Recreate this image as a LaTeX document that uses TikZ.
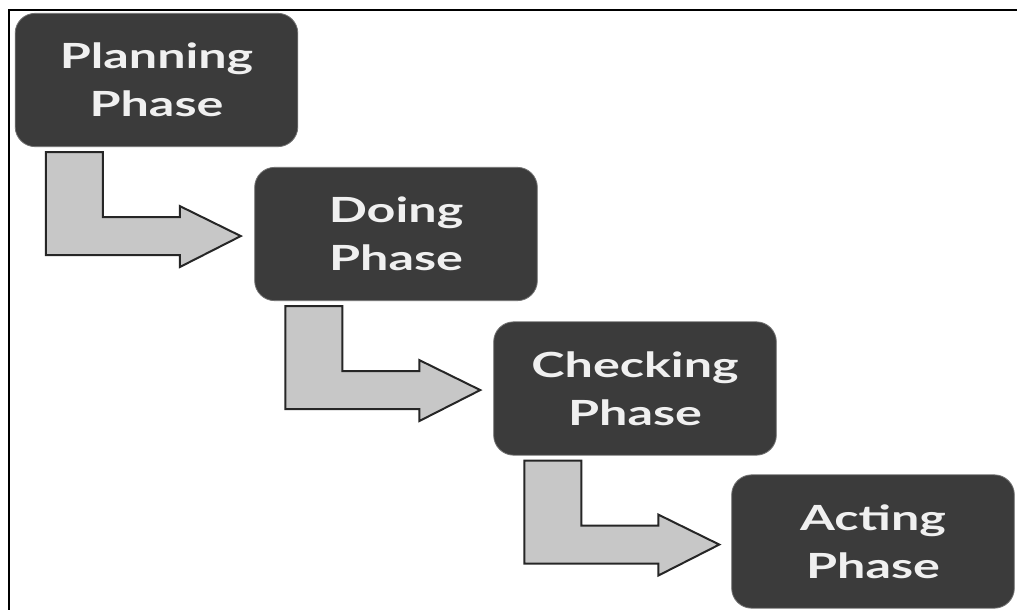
\documentclass[tikz,border=0pt]{standalone}
\usepackage{fontspec}
\setmainfont{Lato}
\usepackage{graphicx}
\usetikzlibrary{calc}

\tikzset{
    phasebox/.style={draw=black!55, line width=0.6pt, fill=black!77, rounded corners=15pt,
        minimum width=212pt, minimum height=100pt, text=white!94!black, align=center,
        font=\fontsize{26}{36}\selectfont\bfseries},
    bentarrow/.style={draw=black!85, line width=1.5pt, fill=black!22, line join=miter}
}
\newcommand{\widetext}[1]{\scalebox{1.45}[1]{#1}}

\begin{document}
\begin{tikzpicture}[x=0.75pt, y=-0.75pt]
    \useasboundingbox (0, 0) rectangle (1017, 610);
    \draw[line width=2.2pt] (9, 610) -- (9, 10) -- (1017, 10);

    \node[phasebox] (plan) at (156.5, 80) {\widetext{Planning}\\\widetext{Phase}};
    \node[phasebox] (doing) at (396, 234) {\widetext{Doing}\\\widetext{Phase}};
    \node[phasebox] (check) at (635, 388.5) {\widetext{Checking}\\\widetext{Phase}};
    \node[phasebox] (act) at (873, 541.5) {\widetext{Acting}\\\widetext{Phase}};

    % bent arrows below each box
    \foreach \a in {plan, doing, check}
        \draw[bentarrow] ($(\a.south west)+(31, 5)$) -- ++(57, 0) -- ++(0, 65) -- ++(77, 0)
            -- ++(0, -11) -- ++(61, 30) -- ++(-61, 31) -- ++(0, -12) -- ++(-134, 0) -- cycle;
\end{tikzpicture}
\end{document}
